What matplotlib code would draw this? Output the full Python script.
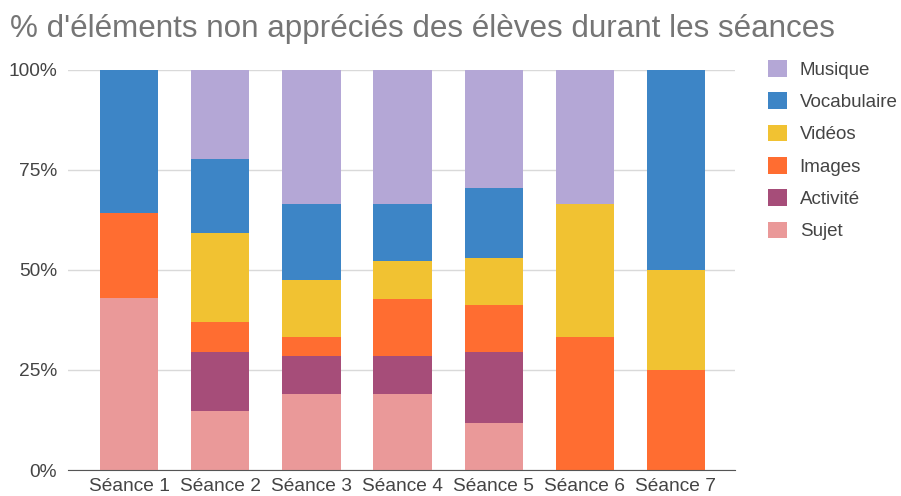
import numpy as np
import matplotlib.pyplot as plt
from matplotlib.patches import Patch

plt.rcParams['font.family'] = ['Liberation Sans', 'DejaVu Sans']

seances = ['Séance 1', 'Séance 2', 'Séance 3', 'Séance 4', 'Séance 5', 'Séance 6', 'Séance 7']

# % per category (bottom to top)
sujet = [42.9, 14.8, 19.0, 19.0, 11.8, 0, 0]
activite = [0, 14.8, 9.5, 9.5, 17.6, 0, 0]
images = [21.4, 7.4, 4.8, 14.3, 11.8, 33.3, 25.0]
videos = [0, 22.2, 14.3, 9.5, 11.8, 33.3, 25.0]
vocabulaire = [35.7, 18.5, 19.0, 14.3, 17.6, 0, 50.0]
musique = [0, 22.2, 33.3, 33.3, 29.4, 33.3, 0]

series = [
    ('Sujet', sujet, '#ea9999'),
    ('Activité', activite, '#a64d79'),
    ('Images', images, '#ff6d31'),
    ('Vidéos', videos, '#f1c232'),
    ('Vocabulaire', vocabulaire, '#3d85c6'),
    ('Musique', musique, '#b4a7d6'),
]

fig = plt.figure(figsize=(9.01, 4.96), dpi=100)
ax = fig.add_axes([0.0755, 0.0524, 0.7405, 0.8066])

x = np.arange(len(seances))
bottom = np.zeros(len(seances))
for name, vals, col in series:
    vals = np.array(vals)
    ax.bar(x, vals, 0.64, bottom=bottom, color=col, label=name, zorder=2)
    bottom += vals

ax.set_xlim(-0.67, 6.65)
ax.set_ylim(0, 100)
ax.set_yticks([0, 25, 50, 75, 100])
ax.set_yticklabels(['0%', '25%', '50%', '75%', '100%'])
ax.set_xticks(x)
ax.set_xticklabels(seances)
ax.grid(axis='y', color='#d9d9d9', linewidth=1, zorder=0)
ax.tick_params(length=0, labelsize=13.8, colors='#444444', pad=6)
ax.tick_params(axis='y', pad=8)
for s in ['top', 'right', 'left']:
    ax.spines[s].set_visible(False)
ax.spines['bottom'].set_color('#555555')
ax.spines['bottom'].set_zorder(3)

handles = [Patch(facecolor=c, label=n) for n, v, c in series[::-1]]
fig.legend(handles=handles, loc='upper left', bbox_to_anchor=(0.8335, 0.913),
           frameon=False, fontsize=13.5, handlelength=1.0, handleheight=1.0,
           labelspacing=0.72, handletextpad=0.7, labelcolor='#444444')

fig.text(0.011, 0.925, "% d'éléments non appréciés des élèves durant les séances",
         fontsize=22.6, color='#757575', ha='left', va='baseline')

fig.savefig('out.png', dpi=100)
